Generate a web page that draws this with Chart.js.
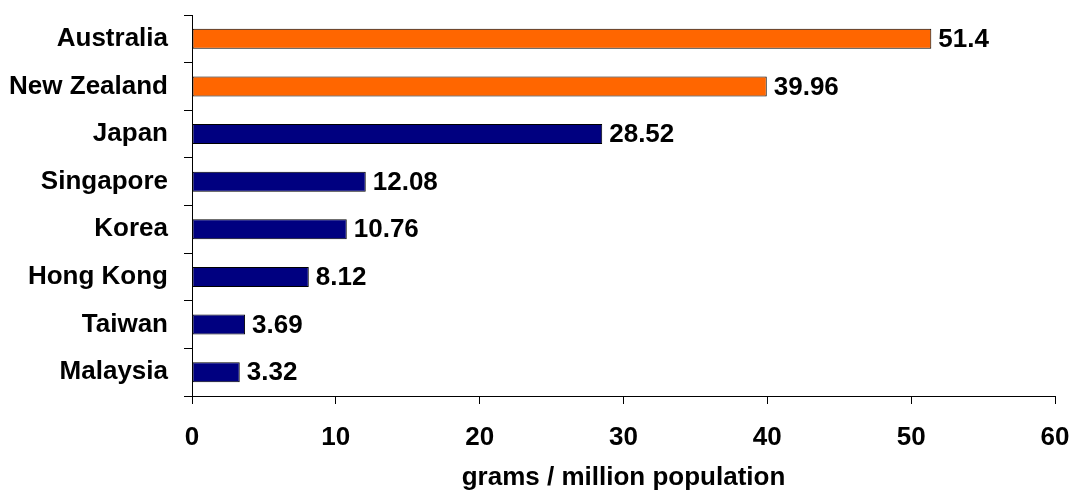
<!DOCTYPE html>
<html>
<head>
<meta charset="utf-8">
<script src="https://cdn.jsdelivr.net/npm/chart.js@4/dist/chart.umd.min.js"></script>
<style>
html,body{margin:0;padding:0;background:#fff;}
#wrap{width:1071px;height:491px;}
</style>
</head>
<body>
<div id="wrap"><canvas id="c" width="1071" height="491"></canvas></div>
<script>
const categories = ["Australia","New Zealand","Japan","Singapore","Korea","Hong Kong","Taiwan","Malaysia"];
const values = [51.4, 39.96, 28.52, 12.08, 10.76, 8.12, 3.69, 3.32];
const valueLabels = ["51.4","39.96","28.52","12.08","10.76","8.12","3.69","3.32"];
const barColors = ["#FF6600","#FF6600","#000080","#000080","#000080","#000080","#000080","#000080"];
const xTicks = [0,10,20,30,40,50,60];
const xTitle = "grams / million population";

const FONT = "'Liberation Sans', Arial, Helvetica, sans-serif";

const valueLabelPlugin = {
  id: 'valueLabels',
  afterDatasetsDraw(chart) {
    const ctx = chart.ctx;
    const meta = chart.getDatasetMeta(0);
    ctx.save();
    ctx.font = "bold 26px " + FONT;
    ctx.fillStyle = "#000";
    ctx.textAlign = "left";
    ctx.textBaseline = "middle";
    meta.data.forEach((bar, i) => {
      ctx.fillText(valueLabels[i], bar.x + 7, bar.y + 1);
    });
    ctx.restore();
  }
};

new Chart(document.getElementById('c'), {
  type: 'bar',
  data: {
    labels: categories,
    datasets: [{
      data: values,
      backgroundColor: barColors,
      borderColor: "#000",
      borderWidth: 1,
      borderSkipped: false,
      categoryPercentage: 1.0,
      barPercentage: 0.42
    }]
  },
  options: {
    indexAxis: 'y',
    responsive: false,
    animation: false,
    devicePixelRatio: 1,
    layout: { padding: { top: 15, right: 16, left: 0, bottom: 0 } },
    plugins: {
      legend: { display: false },
      tooltip: { enabled: false }
    },
    scales: {
      x: {
        type: 'linear',
        min: 0,
        max: 60,
        afterBuildTicks(scale) { scale.ticks = xTicks.map(v => ({ value: v })); },
        afterFit(scale) { scale.height = 95; scale.paddingLeft = 0; scale.paddingRight = 0; },
        border: { display: true, color: "#000", width: 1 },
        grid: { drawOnChartArea: false, drawTicks: true, tickLength: 8, color: "#000" },
        ticks: {
          color: "#000",
          padding: 18,
          maxRotation: 0,
          font: { family: FONT, size: 26, weight: 'bold' }
        },
        title: {
          display: true,
          text: xTitle,
          color: "#000",
          padding: { top: 0, bottom: 0 },
          font: { family: FONT, size: 26, weight: 'bold', lineHeight: 1.05 }
        }
      },
      y: {
        afterFit(scale) { scale.width = 192; scale.paddingTop = 0; scale.paddingBottom = 0; },
        border: { display: true, color: "#000", width: 1 },
        grid: { drawOnChartArea: false, drawTicks: true, tickLength: 8, color: "#000", offset: true },
        ticks: {
          color: "#000",
          padding: 16,
          font: { family: FONT, size: 26, weight: 'bold' }
        }
      }
    }
  },
  plugins: [valueLabelPlugin]
});
</script>
</body>
</html>
